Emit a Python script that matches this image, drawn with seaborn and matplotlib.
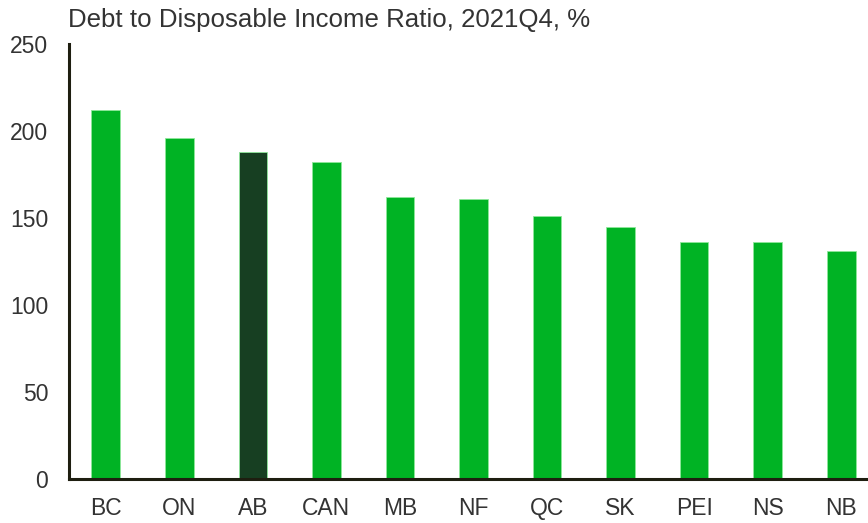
import matplotlib
matplotlib.use("Agg")
import matplotlib.pyplot as plt
import seaborn as sns
import pandas as pd

provinces = ["BC", "ON", "AB", "CAN", "MB", "NF", "QC", "SK", "PEI", "NS", "NB"]
ratios = [212, 196, 188, 182, 162, 161, 151, 145, 136, 136, 131]
highlight = "AB"

bright_green = "#00B324"
dark_green = "#173F22"

sns.set_theme(style="white")
plt.rcParams["font.family"] = ["Liberation Sans", "DejaVu Sans"]

df = pd.DataFrame({"province": provinces, "ratio": ratios})
palette = {p: (dark_green if p == highlight else bright_green) for p in provinces}

fig = plt.figure(figsize=(8.68, 5.23), dpi=100)
ax = fig.add_axes([69 / 868, 1 - 479 / 523, 809 / 868, 435 / 523])

sns.barplot(data=df, x="province", y="ratio", hue="province", palette=palette,
            order=provinces, width=0.39, legend=False, ax=ax,
            edgecolor="#8EE89A", linewidth=0.6, saturation=1)

ax.set_xlim(-0.5, len(provinces) - 0.5)
ax.set_ylim(0, 250)
ax.set_yticks([0, 50, 100, 150, 200, 250])
ax.set_xlabel("")
ax.set_ylabel("")

for side in ["top", "right"]:
    ax.spines[side].set_visible(False)
for side in ["left", "bottom"]:
    ax.spines[side].set_color("#1E1E10")
    ax.spines[side].set_linewidth(2.2)

ax.tick_params(axis="both", length=0, labelsize=16.5, colors="#333333")
ax.tick_params(axis="y", pad=15)
ax.tick_params(axis="x", pad=13)

fig.text(68 / 868, 1 - 20 / 523, "Debt to Disposable Income Ratio, 2021Q4, %",
         fontsize=18.6, color="#333333", va="center", ha="left")

fig.savefig("out.png", dpi=100)
